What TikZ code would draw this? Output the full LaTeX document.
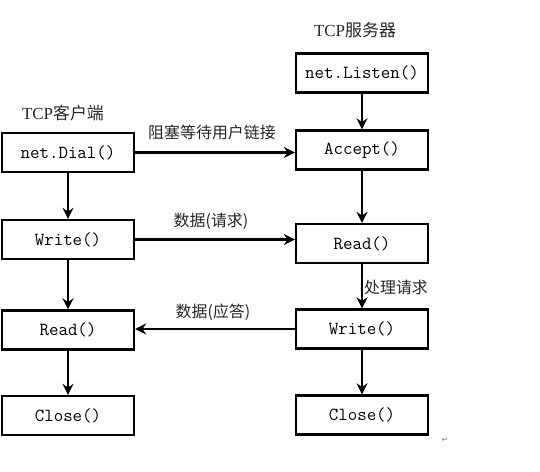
\documentclass[tikz,border=0pt]{standalone}
\usepackage{fontspec}
\setmainfont{Liberation Serif}
\newfontfamily\cjk{Noto Sans CJK SC}
\newfontfamily\symf{DejaVu Sans}
\usetikzlibrary{arrows.meta}
\begin{document}
\begin{tikzpicture}[x=1bp,y=-1bp,
  box/.style={draw,line width=2.2bp,minimum width=132bp,minimum height=39bp,inner sep=0pt,font=\fontsize{18.5}{18.5}\ttfamily},
  flow/.style={line width=2.6bp,-{Stealth[length=11bp,width=11bp,inset=3.5bp]}},
  lbl/.style={inner sep=0pt,text=black!85,font=\fontsize{16}{16}\selectfont}]
\useasboundingbox (0,0) rectangle (540,472);
% client column
\node[box] (dial)   at (68,152.5) {net.Dial()};
\node[box] (cwrite) at (68,239.5) {Write()};
\node[box] (cread)  at (68,330)   {Read()};
\node[box] (cclose) at (68,415.5) {Close()};
% server column
\node[box] (listen) at (362,73)    {net.Listen()};
\node[box] (accept) at (362,150)   {Accept()};
\node[box] (sread)  at (362,243.5) {Read()};
\node[box] (swrite) at (362,329)   {Write()};
\node[box] (sclose) at (362,415)   {Close()};
% titles and labels
\node[lbl,font=\fontsize{17}{17}\selectfont] (tc) at (63,113) {TCP{\cjk 客户端}};
\node[lbl,font=\fontsize{17}{17}\selectfont] (ts) at (355,30) {TCP{\cjk 服务器}};
\node[lbl] (l1) at (212,132) {\cjk 阻塞等待用户链接};
\node[lbl] (l2) at (211,221) {\cjk 数据(请求)};
\node[lbl] (l3) at (213,312) {\cjk 数据(应答)};
\node[lbl] (l4) at (396,287) {\cjk 处理请求};
\node[inner sep=0pt,text=gray,font=\fontsize{8}{8}\symf] (ret) at (445,440) {↵};
% connectors
\draw[flow] (dial) -- (cwrite);
\draw[flow] (cwrite) -- (cread);
\draw[flow] (cread) -- (cclose);
\draw[flow] (listen) -- (accept);
\draw[flow] (accept) -- (sread);
\draw[flow] (sread) -- (swrite);
\draw[flow] (swrite) -- (sclose);
\draw[flow] (dial.east) -- (dial.east -| accept.west);
\draw[flow] (cwrite.east) -- (cwrite.east -| sread.west);
\draw[flow] (swrite.west) -- (swrite.west -| cread.east);
\end{tikzpicture}
\end{document}
